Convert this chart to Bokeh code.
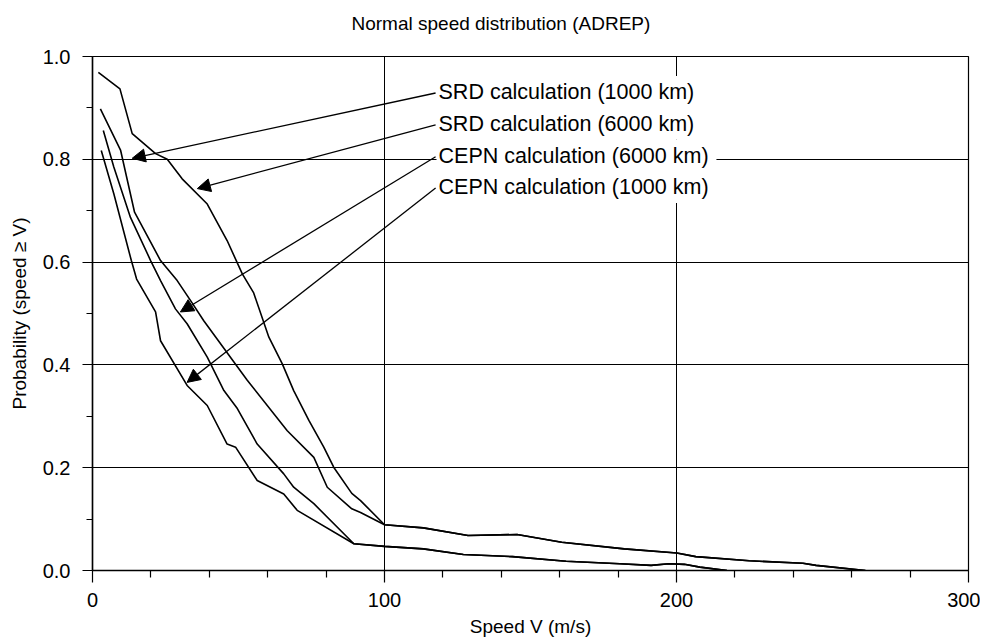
from bokeh.plotting import figure
from bokeh.models import Range1d, FixedTicker, Label, Arrow, NormalHead, Title
from bokeh.embed import file_html
from bokeh.resources import INLINE

# ---- data ----
# shared tails: the two SRD curves merge at 100 m/s, the two CEPN curves near 90 m/s
srd_tail_x = [113.3, 128.6, 145.4, 160.7, 182.1, 200.1, 206.6, 224.9, 243.3, 247.8, 264.7]
srd_tail_y = [0.083, 0.068, 0.070, 0.055, 0.042, 0.034, 0.027, 0.019, 0.014, 0.010, 0.0]
cepn_tail_x = [100.0, 113.3, 127.0, 143.8, 162.2, 180.6, 191.3, 197.4, 202.7, 208.0, 217.3]
cepn_tail_y = [0.047, 0.042, 0.031, 0.027, 0.018, 0.013, 0.010, 0.013, 0.012, 0.0065, 0.0]

srd6000_x = [2.0, 9.4, 13.6, 21.6, 25.6, 30.7, 39.3, 46.1, 51.3, 55.2, 60.4, 65.0, 68.9,
             74.1, 79.2, 82.6, 88.8, 91.8, 100.0]
srd6000_y = [0.969, 0.937, 0.850, 0.811, 0.800, 0.762, 0.713, 0.642, 0.577, 0.540, 0.454,
             0.402, 0.350, 0.292, 0.240, 0.201, 0.150, 0.136, 0.089]

srd1000_x = [2.7, 9.6, 14.4, 23.3, 29.0, 33.6, 38.1, 53.0, 66.7, 75.8, 80.4, 88.8, 91.8, 100.0]
srd1000_y = [0.898, 0.818, 0.697, 0.603, 0.564, 0.525, 0.486, 0.370, 0.272, 0.220, 0.162,
             0.120, 0.113, 0.089]

cepn6000_x = [3.7, 7.3, 13.0, 19.9, 23.3, 28.4, 32.4, 39.3, 45.0, 49.6, 56.4, 65.5, 68.9,
              75.8, 89.5]
cepn6000_y = [0.856, 0.785, 0.687, 0.603, 0.564, 0.509, 0.480, 0.415, 0.350, 0.315, 0.246,
              0.188, 0.162, 0.130, 0.052]

cepn1000_x = [3.0, 7.3, 13.3, 15.1, 21.6, 23.3, 32.4, 39.3, 46.1, 49.0, 56.4, 65.5, 70.1, 89.5]
cepn1000_y = [0.817, 0.733, 0.603, 0.567, 0.503, 0.447, 0.360, 0.321, 0.246, 0.240, 0.175,
              0.149, 0.117, 0.052]

labels = ["SRD calculation (1000 km)", "SRD calculation (6000 km)",
          "CEPN calculation (6000 km)", "CEPN calculation (1000 km)"]
label_y = [0.931, 0.869, 0.807, 0.746]
arrow_tip_x = [13.6, 35.9, 30.1, 32.4]
arrow_tip_y = [0.802, 0.743, 0.503, 0.366]

x_major = [0, 100, 200, 300]
x_minor = [20, 40, 60, 80, 120, 140, 160, 180, 220, 240, 260, 280]
y_major = [0.0, 0.2, 0.4, 0.6, 0.8, 1.0]
y_minor = [0.1, 0.3, 0.5, 0.7, 0.9]
y_tick_labels = {0.0: "0.0", 0.2: "0.2", 0.4: "0.4", 0.6: "0.6", 0.8: "0.8", 1.0: "1.0"}

FONT = "Liberation Sans"
LABEL_PX = 21.5
PX_PER_X = 876 / 300.0    # frame width in px per data unit
PX_PER_Y = 514 / 1.0      # frame height in px per data unit

p = figure(width=980, height=639, output_backend="svg", toolbar_location=None,
           x_range=Range1d(0, 300), y_range=Range1d(0, 1.0), title=None,
           min_border_left=92, min_border_right=12, min_border_top=56, min_border_bottom=69)
p.background_fill_color = "white"
p.outline_line_color = "black"
p.outline_line_width = 1.2

# spacer (nearest the frame) then the real title above it
p.add_layout(Title(text=" ", text_font=FONT, text_font_size="19px", standoff=0), "above")
p.add_layout(Title(text="Normal speed distribution (ADREP)", text_font=FONT,
                   text_font_size="19px", text_font_style="normal", text_color="black",
                   align="left", offset=259, standoff=0), "above")

# grid
p.xgrid.ticker = FixedTicker(ticks=[100, 200])
p.ygrid.ticker = FixedTicker(ticks=[0.2, 0.4, 0.6, 0.8])
for g in (p.xgrid, p.ygrid):
    g.grid_line_color = "black"
    g.grid_line_width = 1.0
    g.grid_line_alpha = 1.0

# axes
p.xaxis.ticker = FixedTicker(ticks=x_major, minor_ticks=x_minor)
p.yaxis.ticker = FixedTicker(ticks=y_major, minor_ticks=y_minor)
p.yaxis.major_label_overrides = y_tick_labels
for ax in (p.xaxis, p.yaxis):
    ax.axis_line_color = "black"
    ax.axis_line_width = 1.5
    ax.major_tick_line_color = "black"
    ax.minor_tick_line_color = "black"
    ax.major_tick_line_width = 1.2
    ax.minor_tick_line_width = 1.2
    ax.major_tick_in = 0
    ax.minor_tick_in = 0
    ax.major_label_text_font = FONT
    ax.major_label_text_font_size = "20px"
    ax.major_label_text_color = "black"
    ax.axis_label_text_font = FONT
    ax.axis_label_text_font_size = "19px"
    ax.axis_label_text_font_style = "normal"
    ax.axis_label_text_color = "black"
p.xaxis.major_tick_out = 12
p.xaxis.minor_tick_out = 7
p.xaxis.major_label_standoff = 10
p.xaxis.axis_label = "Speed V (m/s)"
p.xaxis.axis_label_standoff = 6
p.yaxis.major_tick_out = 10
p.yaxis.minor_tick_out = 6
p.yaxis.major_label_standoff = 12
p.yaxis.axis_label = "Probability (speed \u2265 V)"
p.yaxis.axis_label_standoff = 10

# curves
series = [
    (srd6000_x + srd_tail_x, srd6000_y + srd_tail_y),
    (srd1000_x + srd_tail_x, srd1000_y + srd_tail_y),
    (cepn6000_x + cepn_tail_x, cepn6000_y + cepn_tail_y),
    (cepn1000_x + cepn_tail_x, cepn1000_y + cepn_tail_y),
]
for xs, ys in series:
    p.line(xs, ys, line_color="black", line_width=1.6)

# annotations: white boxes behind the callout texts (hide the grid there)
text_x = 118.5
half_h = 16 / PX_PER_Y
box_left, box_right, box_top, box_bottom = [], [], [], []
for txt, ly in zip(labels, label_y):
    w_px = len(txt) * LABEL_PX * 0.49 + 4
    box_left.append(text_x - 2 / PX_PER_X)
    box_right.append(text_x + w_px / PX_PER_X)
    box_top.append(ly + half_h)
    box_bottom.append(ly - half_h)
p.quad(left=box_left, right=box_right, top=box_top, bottom=box_bottom,
       fill_color="white", line_color=None)

for txt, ly, tx, ty in zip(labels, label_y, arrow_tip_x, arrow_tip_y):
    p.add_layout(Arrow(x_start=text_x - 1.0, y_start=ly - 0.002, x_end=tx, y_end=ty,
                       line_color="black", line_width=1.3,
                       end=NormalHead(size=13, fill_color="black", line_color="black")))
    p.add_layout(Label(x=text_x, y=ly, text=txt, text_align="left", text_baseline="middle",
                       text_font=FONT, text_font_size=f"{LABEL_PX}px", text_color="black"))

open("out.html", "w").write(file_html(p, INLINE))
